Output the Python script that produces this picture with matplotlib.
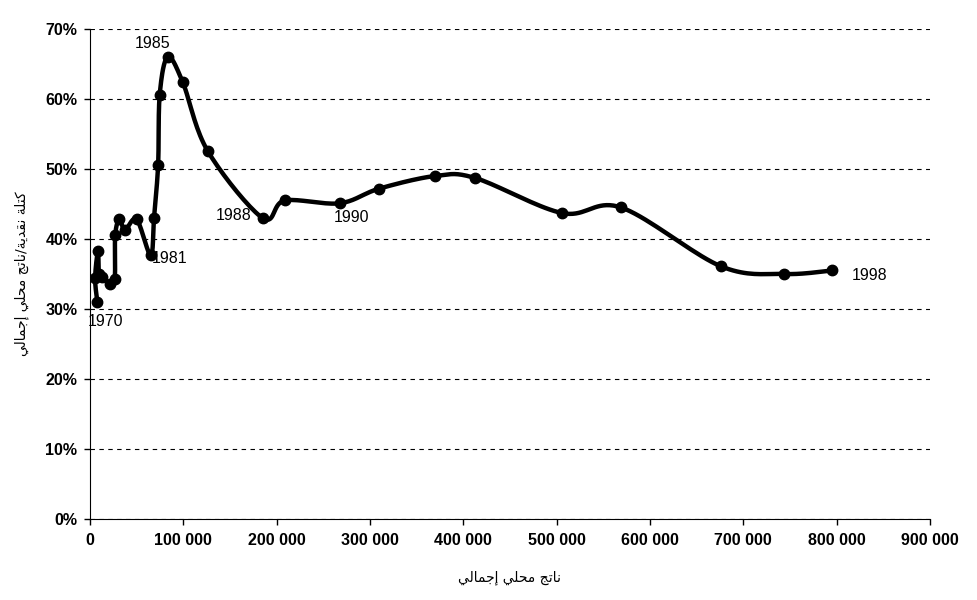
import matplotlib
matplotlib.use("Agg")
import matplotlib.pyplot as plt
import numpy as np
from matplotlib.ticker import FuncFormatter, MultipleLocator

years = list(range(1970, 1999))
gdp = [7900, 5500, 8600, 9500, 12500, 21000, 26500, 27000, 31500, 37500,
       50000, 65000, 68600, 73000, 74700, 83300, 99400, 126000, 185000, 208600,
       267500, 310000, 370000, 413000, 506000, 569000, 676000, 744000, 795000]
ratio = [0.310, 0.344, 0.383, 0.350, 0.346, 0.336, 0.343, 0.405, 0.428, 0.413,
         0.428, 0.377, 0.430, 0.506, 0.606, 0.660, 0.624, 0.526, 0.430, 0.455,
         0.451, 0.472, 0.490, 0.487, 0.437, 0.445, 0.361, 0.350, 0.355]
labelled = [1970, 1981, 1985, 1988, 1990, 1998]

# Arabic text in presentation forms, visual order
xlabel_ar = "\ufef2\ufedf\ufe8e\ufee4\ufe9f\ufe87 \ufef2\ufee0\ufea4\ufee3 \ufe9e\ufe97\ufe8e\ufee7"
ylabel_ar = ("\ufef2\ufedf\ufe8e\ufee4\ufe9f\ufe87 \ufef2\ufee0\ufea4\ufee3 \ufe9e\ufe97\ufe8e\ufee7"
             "/\ufe94\ufef3\ufeaa\ufed8\ufee7 \ufe94\ufee0\ufe98\ufedb")


def smooth(xs, ys, n=20):
    # Catmull-Rom style smoothing like a spreadsheet "smoothed line"
    p = np.column_stack([xs, ys]).astype(float)
    sx = np.array([900000.0, 0.7])
    q = p / sx
    q = np.vstack([q[0], q, q[-1]])
    out = []
    for i in range(1, len(q) - 2):
        p0, p1, p2, p3 = q[i - 1], q[i], q[i + 1], q[i + 2]
        c1 = p1 + (p2 - p0) / 6.0
        c2 = p2 - (p3 - p1) / 6.0
        t = np.linspace(0, 1, n)[:, None]
        seg = ((1 - t) ** 3) * p1 + 3 * ((1 - t) ** 2) * t * c1 + 3 * (1 - t) * t ** 2 * c2 + t ** 3 * p2
        out.append(seg if i == 1 else seg[1:])
    r = np.vstack(out) * sx
    return r[:, 0], r[:, 1]


plt.rcParams['font.family'] = ['Liberation Sans', 'DejaVu Sans']

fig = plt.figure(figsize=(9.77, 6.0), dpi=100)
ax = fig.add_axes([0.0921, 0.135, 0.8598, 0.8167])

sx, sy = smooth(gdp, ratio)
ax.plot(sx, sy, color='black', linewidth=3.2, solid_capstyle='round', zorder=3)
ax.plot(gdp, ratio, linestyle='none', marker='o', markersize=7.5, color='black', zorder=4)

offsets = {1970: (-10, -20), 1981: (1, -3), 1985: (-33, 13),
           1988: (-47, 2), 1990: (-6, -14), 1998: (20, -5)}
for yr in labelled:
    i = years.index(yr)
    dx, dy = offsets[yr]
    ax.annotate(str(yr), (gdp[i], ratio[i]), xytext=(dx, dy), textcoords='offset pixels',
                ha='left', va='center', fontsize=11.5)

ax.set_xlim(0, 900000)
ax.set_ylim(0, 0.7)
ax.xaxis.set_major_locator(MultipleLocator(100000))
ax.yaxis.set_major_locator(MultipleLocator(0.1))
ax.xaxis.set_major_formatter(FuncFormatter(lambda v, p: f"{int(v):,}".replace(",", " ")))
ax.yaxis.set_major_formatter(FuncFormatter(lambda v, p: f"{v * 100:.0f}%"))
ax.grid(axis='y', linestyle=(0, (4, 4)), color='black', linewidth=0.8)
ax.set_axisbelow(True)
for s in ['top', 'right']:
    ax.spines[s].set_visible(False)
ax.tick_params(direction='out', length=4, width=1, labelsize=11.5)
ax.tick_params(axis='y', pad=5)
ax.tick_params(axis='x', pad=6)
for lab in ax.get_xticklabels() + ax.get_yticklabels():
    lab.set_fontweight('bold')

ax.set_xlabel(xlabel_ar, fontsize=10, family='DejaVu Sans', labelpad=16)
ax.set_ylabel(ylabel_ar, fontsize=10, family='DejaVu Sans', labelpad=12)

fig.savefig("out.png", dpi=100)
